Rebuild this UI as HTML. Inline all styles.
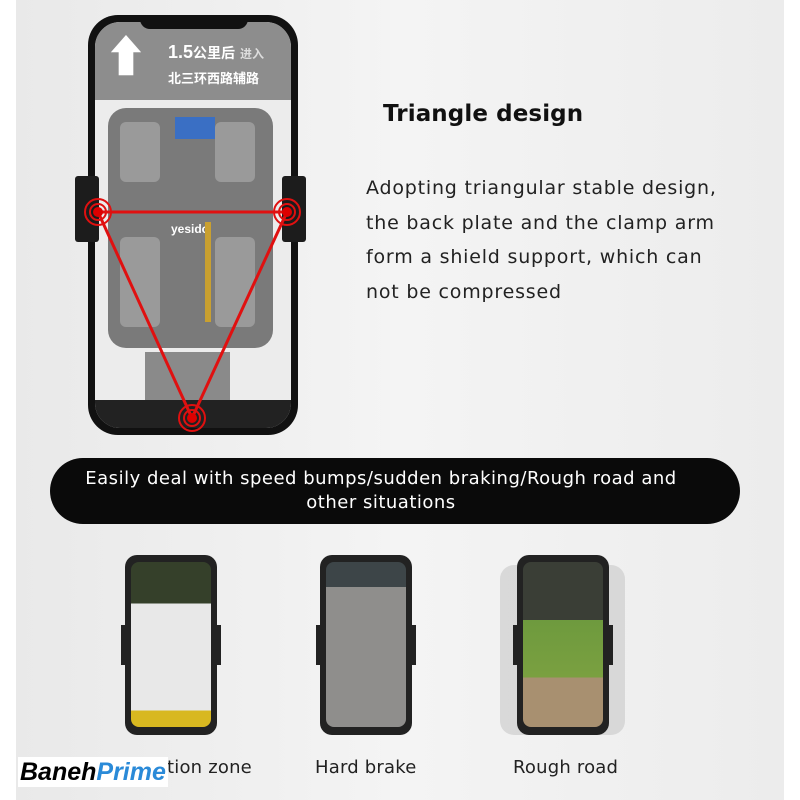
<!DOCTYPE html>
<html><head><meta charset="utf-8"><style>
body{margin:0;width:800px;height:800px;background:#fff;position:relative;overflow:hidden;font-family:"Liberation Sans","Noto Sans CJK SC",sans-serif}
.bg{position:absolute;left:16px;top:0;width:768px;height:800px;background:linear-gradient(90deg,#e9e9e9,#f4f4f4 50%,#ececec)}
.a{position:absolute}
.dv{font-family:"DejaVu Sans",sans-serif}
</style></head><body>
<div class="bg"></div>
<div class="a" style="left:88px;top:15px;width:210px;height:420px;border-radius:30px;background:#111;"></div>
<div class="a" style="left:95px;top:22px;width:196px;height:406px;border-radius:25px;background:#ececec;overflow:hidden">
 <div class="a" style="left:0;top:0;width:196px;height:78px;background:#8d8d8d"></div>
 <div class="a" style="left:6px;top:14px;width:50px;height:60px;color:#fff;font-size:44px;line-height:44px;text-align:center">⬆</div>
 <div class="a" style="left:73px;top:20px;color:#fff;font-size:18px;font-weight:bold">1.5<span style="font-size:14px">公里后</span> <span style="font-size:12px;color:#ddd">进入</span></div>
 <div class="a" style="left:73px;top:46px;color:#fff;font-size:13px;font-weight:bold">北三环西路辅路</div>
 <div class="a" style="left:13px;top:86px;width:165px;height:240px;border-radius:18px;background:#7a7a7a"></div>
 <div class="a" style="left:25px;top:100px;width:40px;height:60px;background:#9a9a9a;border-radius:6px"></div>
 <div class="a" style="left:120px;top:100px;width:40px;height:60px;background:#9a9a9a;border-radius:6px"></div>
 <div class="a" style="left:25px;top:215px;width:40px;height:90px;background:#9a9a9a;border-radius:6px"></div>
 <div class="a" style="left:120px;top:215px;width:40px;height:90px;background:#9a9a9a;border-radius:6px"></div>
 <div class="a" style="left:80px;top:95px;width:40px;height:22px;background:#3a6fc4"></div>
 <div class="a" style="left:76px;top:200px;color:#fff;font-size:12px;font-weight:bold">yesido</div>
 <div class="a" style="left:110px;top:200px;width:6px;height:100px;background:#c9a030"></div>
 <div class="a" style="left:50px;top:330px;width:85px;height:60px;background:#8a8a8a"></div>
 <div class="a" style="left:0;top:378px;width:196px;height:30px;background:#222"></div>
</div>
<div class="a" style="left:75px;top:176px;width:24px;height:66px;background:#1c1c1c;border-radius:3px"></div>
<div class="a" style="left:282px;top:176px;width:24px;height:66px;background:#1c1c1c;border-radius:3px"></div>
<div class="a" style="left:140px;top:15px;width:108px;height:14px;background:#111;border-radius:0 0 10px 10px"></div>
<svg class="a" style="left:0;top:0" width="400" height="450">
 <polygon points="98,212 287,212 192,418" fill="none" stroke="#e01010" stroke-width="3"/>
 <g fill="none" stroke="#e01010" stroke-width="2">
  <circle cx="98" cy="212" r="8"/><circle cx="98" cy="212" r="13"/>
  <circle cx="287" cy="212" r="8"/><circle cx="287" cy="212" r="13"/>
  <circle cx="192" cy="418" r="8"/><circle cx="192" cy="418" r="13"/>
 </g>
 <circle cx="98" cy="212" r="5" fill="#d00"/><circle cx="287" cy="212" r="5" fill="#d00"/><circle cx="192" cy="418" r="5" fill="#d00"/>
</svg>
<div class="a dv" style="left:383px;top:101px;font-size:23px;font-weight:bold;color:#111;letter-spacing:0.1px">Triangle design</div>
<div class="a dv" style="left:366px;top:171px;font-size:19px;line-height:34.5px;color:#222;letter-spacing:0.8px">Adopting triangular stable design,<br>the back plate and the clamp arm<br>form a shield support, which can<br>not be compressed</div>
<div class="a dv" style="left:50px;top:458px;width:690px;height:66px;border-radius:33px;background:#0a0a0a;color:#fff;font-size:18px;line-height:24px;text-align:center;padding:9px 28px 0 0;box-sizing:border-box;letter-spacing:0.5px">Easily deal with speed bumps/sudden braking/Rough road and<br>other situations</div>
<div class="a" style="left:125px;top:555px;width:92px;height:180px;border-radius:12px;background:#222"></div>
<div class="a" style="left:131px;top:562px;width:80px;height:165px;border-radius:8px;background:linear-gradient(#35402a 0,#35402a 25%,#e8e8e8 25%,#e8e8e8 90%,#d8b820 90%)"></div>
<div class="a" style="left:121px;top:625px;width:10px;height:40px;background:#222"></div><div class="a" style="left:211px;top:625px;width:10px;height:40px;background:#222"></div>
<div class="a" style="left:320px;top:555px;width:92px;height:180px;border-radius:12px;background:#222"></div>
<div class="a" style="left:326px;top:562px;width:80px;height:165px;border-radius:8px;background:linear-gradient(#3d4548 0,#3d4548 15%,#8f8e8c 15%)"></div>
<div class="a" style="left:316px;top:625px;width:10px;height:40px;background:#222"></div><div class="a" style="left:406px;top:625px;width:10px;height:40px;background:#222"></div>
<div class="a" style="left:500px;top:565px;width:125px;height:170px;border-radius:14px;background:#c8c8c8;opacity:.6"></div>
<div class="a" style="left:517px;top:555px;width:92px;height:180px;border-radius:12px;background:#222"></div>
<div class="a" style="left:523px;top:562px;width:80px;height:165px;border-radius:8px;background:linear-gradient(#3a3e36 0,#3a3e36 35%,#6e9a3e 35%,#7aa040 70%,#a89070 70%)"></div>
<div class="a" style="left:513px;top:625px;width:10px;height:40px;background:#222"></div><div class="a" style="left:603px;top:625px;width:10px;height:40px;background:#222"></div>
<div class="a dv" style="left:85px;top:757px;font-size:18px;color:#222;letter-spacing:0.2px">Deceleration zone</div>
<div class="a dv" style="left:315px;top:757px;font-size:18px;color:#222;letter-spacing:0.2px">Hard brake</div>
<div class="a dv" style="left:513px;top:757px;font-size:18px;color:#222;letter-spacing:0.2px">Rough road</div>
<div class="a" style="left:18px;top:757px;font-size:25px;font-weight:bold;font-style:italic;color:#000;background:#fff;padding:0 2px;line-height:30px">Baneh<span style="color:#2a8ad8">Prime</span></div>
</body></html>
